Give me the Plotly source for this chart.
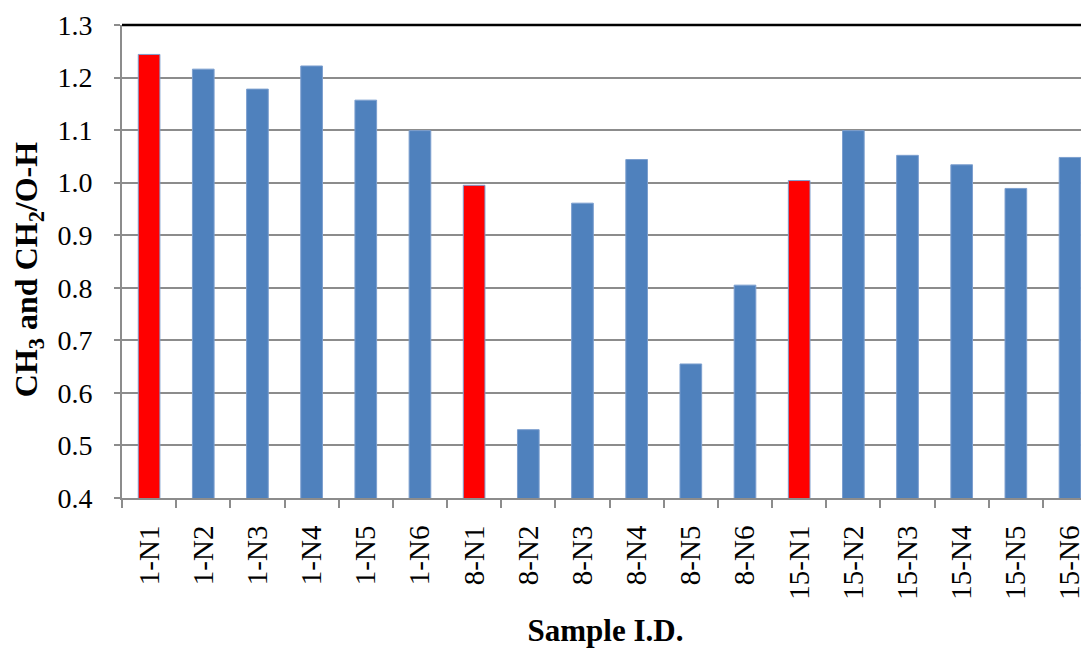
import plotly.graph_objects as go

samples = ["1-N1", "1-N2", "1-N3", "1-N4", "1-N5", "1-N6",
           "8-N1", "8-N2", "8-N3", "8-N4", "8-N5", "8-N6",
           "15-N1", "15-N2", "15-N3", "15-N4", "15-N5", "15-N6"]
ratio = [1.244, 1.216, 1.178, 1.222, 1.157, 1.099,
         0.995, 0.530, 0.961, 1.044, 0.655, 0.805,
         1.004, 1.099, 1.052, 1.034, 0.989, 1.048]

# N1 samples are highlighted in red
colors = ["#FF0000" if s.endswith("N1") else "#4F81BD" for s in samples]

font = "Liberation Serif"

fig = go.Figure()

fig.add_trace(
    go.Bar(
        x=samples,
        y=ratio,
        width=0.4,
        marker=dict(color=colors, line=dict(width=1, color="#7C9FCF")),
    )
)

# the page body has an 8px margin, so the figure is sized 8px smaller
fig.update_layout(
    width=1081,
    height=644,
    margin=dict(l=114, r=0, t=17, b=154),
    plot_bgcolor="white",
    paper_bgcolor="white",
    showlegend=False,
    font=dict(family=font, color="black", size=28),
)

fig.update_xaxes(
    type="category",
    range=[-0.5, 17.35],
    automargin=False,
    tickangle=-90,
    tickfont=dict(family=font, size=29),
    ticks="outside",
    tickson="boundaries",
    ticklen=8,
    tickwidth=1.5,
    tickcolor="#8c8c8c",
    showline=True,
    linecolor="#8c8c8c",
    linewidth=2,
    showgrid=False,
    ticklabelstandoff=14,
    title=dict(text="<b>Sample I.D.</b>", font=dict(family=font, size=31), standoff=21),
)

fig.update_yaxes(
    range=[0.4, 1.3],
    dtick=0.1,
    tickformat=".1f",
    automargin=False,
    tickfont=dict(family=font, size=28),
    ticks="outside",
    ticklen=6,
    tickwidth=1.5,
    tickcolor="#8c8c8c",
    showline=True,
    linecolor="#8c8c8c",
    linewidth=2,
    showgrid=True,
    gridcolor="#8c8c8c",
    gridwidth=1.5,
    zeroline=False,
    ticklabelstandoff=16,
    title=dict(text="<b>CH<sub>3</sub> and CH<sub>2</sub>/O-H</b>&nbsp;&nbsp;",
               font=dict(family=font, size=32), standoff=10),
)

# black top border of the plot area
fig.add_shape(type="line", xref="paper", yref="y domain",
              x0=0, x1=1, y0=1, y1=1,
              line=dict(color="black", width=2.5))

fig.write_html("out.html")
